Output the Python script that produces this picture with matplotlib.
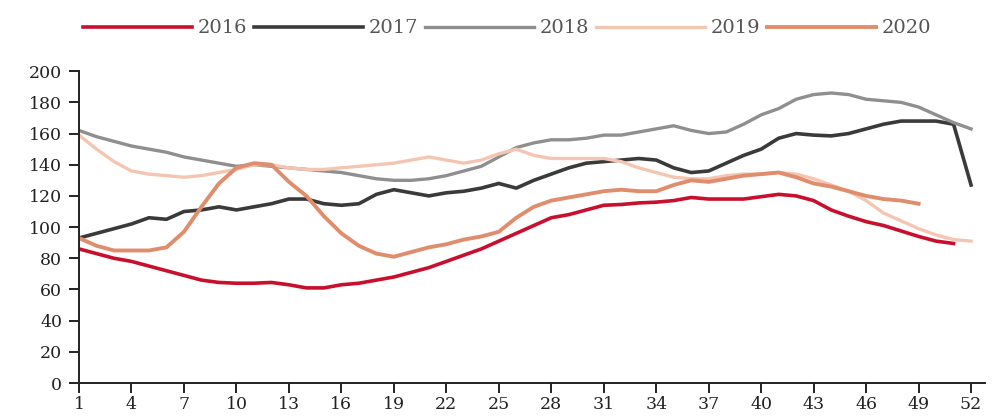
import matplotlib
matplotlib.use("Agg")
import matplotlib.pyplot as plt
import numpy as np

# weekly index values, one list per year
weeks = np.arange(1, 53)

y2016 = [86, 83, 80, 78, 75, 72, 69, 66, 64.5, 64, 64, 64.5, 63, 61, 61, 63,
         64, 66, 68, 71, 74, 78, 82, 86, 91, 96, 101, 106, 108, 111, 114, 114.5,
         115.5, 116, 117, 119, 118, 118, 118, 119.5, 121, 120, 117, 111, 107,
         103.5, 101, 97.5, 94, 91, 89.5]
y2017 = [93, 96, 99, 102, 106, 105, 110, 111, 113, 111, 113, 115, 118, 118, 115,
         114, 115, 121, 124, 122, 120, 122, 123, 125, 128, 125, 130, 134, 138, 141,
         142, 143, 144, 143, 138, 135, 136, 141, 146, 150, 157, 160, 159, 158.5,
         160, 163, 166, 168, 168, 168, 166, 127]
y2018 = [162, 158, 155, 152, 150, 148, 145, 143, 141, 139, 140, 139, 138, 137,
         136, 135, 133, 131, 130, 130, 131, 133, 136, 139, 145, 151, 154, 156,
         156, 157, 159, 159, 161, 163, 165, 162, 160, 161, 166, 172, 176, 182,
         185, 186, 185, 182, 181, 180, 177, 172, 167, 163]
y2019 = [159, 150, 142, 136, 134, 133, 132, 133, 135, 137, 140, 140, 138, 137,
         137, 138, 139, 140, 141, 143, 145, 143, 141, 143, 147, 150, 146, 144,
         144, 144, 144, 142, 138, 135, 132, 131, 131, 133, 134, 134, 135, 134,
         131, 127, 123, 117, 109, 104, 99, 95, 92, 91]
y2020 = [93, 88, 85, 85, 85, 87, 97, 113, 128, 138, 141, 140, 129, 120, 107, 96,
         88, 83, 81, 84, 87, 89, 92, 94, 97, 106, 113, 117, 119, 121, 123, 124,
         123, 123, 127, 130, 129, 131, 133, 134, 135, 132, 128, 126, 123, 120,
         118, 117, 115]

years = ['2016', '2017', '2018', '2019', '2020']
series = [y2016, y2017, y2018, y2019, y2020]
colors = ['#c8102e', '#3a3a3a', '#8f8f8f', '#f4c6b2', '#e08d6d']
widths = [2.6, 2.6, 2.4, 2.4, 2.8]

xticks = list(range(1, 53, 3))
yticks = list(range(0, 201, 20))

plt.rcParams['font.family'] = ['DejaVu Serif']

fig = plt.figure(figsize=(9.94, 4.18), dpi=100)
ax = fig.add_axes([0.0795, 0.0837, 0.9115, 0.746])

for name, vals, c, lw in zip(years, series, colors, widths):
    ax.plot(weeks[:len(vals)], vals, color=c, lw=lw, label=name,
            solid_joinstyle='round')

ax.set_xlim(1, 52.8)
ax.set_ylim(0, 200)
ax.set_xticks(xticks)
ax.set_yticks(yticks)
ax.tick_params(axis='both', direction='out', length=7, width=1.4,
               labelsize=12.5, colors='#222222')
ax.tick_params(axis='x', pad=2)
ax.tick_params(axis='y', pad=5)

for side in ['top', 'right']:
    ax.spines[side].set_visible(False)
for side in ['left', 'bottom']:
    ax.spines[side].set_linewidth(1.4)
    ax.spines[side].set_color('#222222')

leg = fig.legend(loc='center', bbox_to_anchor=(0.51, 0.932), ncol=5,
                 frameon=False, fontsize=14, handlelength=5.6,
                 handletextpad=0.3, columnspacing=0.35)
for t in leg.get_texts():
    t.set_color('#555555')

fig.savefig('out.png', dpi=100)
